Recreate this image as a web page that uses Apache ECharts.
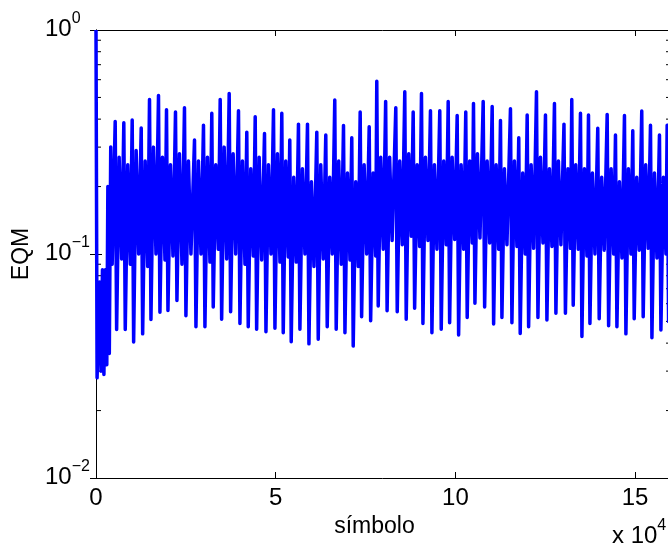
<!DOCTYPE html>
<html>
<head>
<meta charset="utf-8">
<script src="https://cdn.jsdelivr.net/npm/echarts@6/dist/echarts.min.js"></script>
<style>
  html, body { margin: 0; padding: 0; background: #fff; }
  #chart { width: 668px; height: 544px; }
</style>
</head>
<body>
<div id="chart"></div>
<script>
// EQM x símbolo (símbolo em unidades de 10^4)
// transitório inicial
const startPos = [0, 0.03, 0.1, 0.14, 0.18, 0.22, 0.26, 0.3, 0.33, 0.37, 0.41, 0.45]
const startVal = [1.0, 0.028, 0.075, 0.03, 0.085, 0.029, 0.085, 0.032, 0.2, 0.036, 0.3, 0.09]

// posição de cada pico (x 10^4)
const peakPos = [0.534, 0.774, 1.007, 1.258, 1.489, 1.739, 1.962, 2.212, 2.462,
  2.741, 2.991, 3.222, 3.456, 3.706, 3.965, 4.196, 4.430, 4.689, 4.939, 5.170,
  5.392, 5.634, 5.885, 6.144, 6.394, 6.644, 6.887, 7.117, 7.351, 7.602, 7.813,
  8.06, 8.342, 8.592, 8.826, 9.057, 9.307, 9.566, 9.800, 10.050, 10.289, 10.504,
  10.774, 11.024, 11.255, 11.533, 11.764, 11.998, 12.257, 12.507, 12.757, 13.022,
  13.239, 13.481, 13.704, 13.962, 14.224, 14.455, 14.705, 14.936, 15.186, 15.429, 15.679, 15.893]

const peakVal = [0.39, 0.385, 0.396, 0.365, 0.49, 0.51, 0.44, 0.43, 0.45,
  0.323, 0.376, 0.425, 0.49, 0.52, 0.436, 0.35, 0.41, 0.345, 0.44, 0.425,
  0.323, 0.38, 0.38, 0.35, 0.34, 0.487, 0.375, 0.33, 0.43, 0.37, 0.59,
  0.48, 0.45, 0.53, 0.43, 0.52, 0.436, 0.436, 0.48, 0.415, 0.43, 0.47,
  0.48, 0.455, 0.394, 0.445, 0.33, 0.417, 0.53, 0.417, 0.47, 0.38,
  0.49, 0.425, 0.417, 0.364, 0.42, 0.34, 0.415, 0.355, 0.435, 0.376, 0.34, 0.376]

const troughVal = [0.046, 0.046, 0.0405, 0.044, 0.051, 0.055, 0.056, 0.062, 0.053,
  0.0473, 0.0473, 0.058, 0.0511, 0.0552, 0.049, 0.0473, 0.0461, 0.045, 0.0466, 0.0445,
  0.0406, 0.0461, 0.0397, 0.0416, 0.0473, 0.0461, 0.0445, 0.0388, 0.0525, 0.0504, 0.0586,
  0.0558, 0.0552, 0.0511, 0.0572, 0.049, 0.0445, 0.0461, 0.0493, 0.0435, 0.0521, 0.0603,
  0.058, 0.0487, 0.0521, 0.0493, 0.0442, 0.0473, 0.0521, 0.0507, 0.0544, 0.0544,
  0.059, 0.0428, 0.049, 0.0514, 0.0478, 0.0473, 0.044, 0.0514, 0.0525, 0.0423, 0.0458, 0.05]

// oscilação interna (faixa central)
const bandHi = [0.27, 0.25, 0.29, 0.26, 0.3, 0.27, 0.25, 0.28, 0.26,
  0.26, 0.27, 0.25, 0.3, 0.28, 0.26, 0.24, 0.27, 0.25, 0.28, 0.26,
  0.22, 0.24, 0.21, 0.25, 0.22, 0.26, 0.23, 0.21, 0.25, 0.23, 0.27,
  0.27, 0.26, 0.28, 0.25, 0.27, 0.25, 0.26, 0.27, 0.25, 0.26, 0.28,
  0.26, 0.25, 0.24, 0.26, 0.23, 0.25, 0.27, 0.24, 0.26, 0.24,
  0.25, 0.24, 0.23, 0.22, 0.24, 0.21, 0.24, 0.22, 0.25, 0.23, 0.22, 0.24]
const bandLo = [0.095, 0.09, 0.1, 0.088, 0.1, 0.094, 0.098, 0.09, 0.1,
  0.1, 0.092, 0.105, 0.095, 0.1, 0.09, 0.098, 0.094, 0.1, 0.092, 0.097,
  0.092, 0.1, 0.088, 0.095, 0.1, 0.09, 0.094, 0.088, 0.1, 0.098, 0.105,
  0.115, 0.11, 0.12, 0.108, 0.115, 0.105, 0.11, 0.116, 0.105, 0.112, 0.118,
  0.112, 0.105, 0.11, 0.108, 0.1, 0.106, 0.112, 0.108, 0.11, 0.106,
  0.105, 0.098, 0.1, 0.104, 0.1, 0.096, 0.1, 0.104, 0.106, 0.096, 0.1, 0.1]

const minorVals = [0.02, 0.03, 0.04, 0.05, 0.06, 0.07, 0.08, 0.09, 0.2, 0.3, 0.4, 0.5, 0.6, 0.7, 0.8, 0.9]

const eqm = []
startPos.forEach((x, i) => eqm.push([x, startVal[i]]))
peakPos.forEach((x, i) => {
  eqm.push([x, peakVal[i]])
  eqm.push([x + 0.04, troughVal[i]])
  eqm.push([x + 0.11, bandHi[i]])
  eqm.push([x + 0.18, bandLo[i]])
})

const font = 'Liberation Sans, Arial, Helvetica, sans-serif'
const rich = {
  b: { fontSize: 24, fontFamily: font, color: '#000', padding: [6, 0, 0, 0], verticalAlign: 'bottom' },
  sup: { fontSize: 16, fontFamily: font, color: '#000', verticalAlign: 'top' },
}
const axisLineStyle = { lineStyle: { color: '#000', width: 1 } }

const myChart = echarts.init(document.getElementById('chart'))
const option = {
  animation: false,
  backgroundColor: '#fff',
  grid: { left: 96, top: 30, right: -3, bottom: 66, outerBoundsMode: 'none', containLabel: false },
  xAxis: [
    {
      type: 'value',
      min: 0,
      max: 16,
      interval: 5,
      position: 'bottom',
      axisLine: axisLineStyle,
      axisTick: { inside: true, length: 6, lineStyle: { color: '#000' } },
      axisLabel: { fontSize: 24, fontFamily: font, color: '#000', margin: 8, showMaxLabel: false },
      splitLine: { show: false },
      name: 'símbolo',
      nameLocation: 'middle',
      nameGap: 25,
      nameTextStyle: { fontSize: 23, fontFamily: font, color: '#000', padding: [0, 18, 0, 0] },
    },
    {
      type: 'value',
      min: 0,
      max: 16,
      interval: 5,
      position: 'top',
      axisLine: axisLineStyle,
      axisTick: { inside: true, length: 6, lineStyle: { color: '#000' } },
      axisLabel: { show: false },
      splitLine: { show: false },
    },
  ],
  yAxis: [
    {
      type: 'log',
      logBase: 10,
      min: 0.01,
      max: 1,
      position: 'left',
      axisLine: { show: true, lineStyle: { color: '#000', width: 1 } },
      axisTick: { show: true, inside: true, length: 6, lineStyle: { color: '#000' } },
      axisLabel: {
        align: 'left',
        margin: 51,
        padding: [0, 0, 8, 0],
        formatter: (v) => '{b|10}{sup|' + String(Math.round(Math.log10(v))).replace('-', '\u2212') + '}',
        rich: rich,
      },
      splitLine: { show: false },
      name: 'EQM',
      nameLocation: 'middle',
      nameGap: 63,
      nameRotate: 90,
      nameTextStyle: { fontSize: 23, fontFamily: font, color: '#000' },
    },
    {
      type: 'log',
      logBase: 10,
      min: 0.01,
      max: 1,
      position: 'right',
      axisLine: { show: true, lineStyle: { color: '#000', width: 1 } },
      axisTick: { show: true, inside: true, length: 6, lineStyle: { color: '#000' } },
      axisLabel: { show: false },
      splitLine: { show: false },
    },
  ],
  graphic: [
    {
      type: 'text',
      left: 612,
      top: 518,
      style: { text: '{b|x 10}{sup|4}', rich: rich },
    },
  ],
  series: [
    {
      // marcas menores do eixo log
      type: 'custom',
      xAxisIndex: 0,
      yAxisIndex: 0,
      z: 1,
      clip: false,
      data: minorVals.map((v) => [0, v]),
      renderItem: (params, api) => {
        const pL = api.coord([0, api.value(1)])
        const pR = api.coord([16, api.value(1)])
        return {
          type: 'group',
          children: [
            { type: 'line', shape: { x1: pL[0], y1: pL[1], x2: pL[0] + 5, y2: pL[1] }, style: { stroke: '#000', lineWidth: 1 } },
            { type: 'line', shape: { x1: pR[0] - 5, y1: pR[1], x2: pR[0], y2: pR[1] }, style: { stroke: '#000', lineWidth: 1 } },
          ],
        }
      },
    },
    {
      name: 'EQM',
      type: 'line',
      xAxisIndex: 0,
      yAxisIndex: 0,
      z: 2,
      data: eqm,
      symbol: 'none',
      showSymbol: false,
      clip: false,
      sampling: null,
      lineStyle: { color: '#0000ff', width: 3.5, join: 'round' },
      emphasis: { disabled: true },
    },
  ],
}
myChart.setOption(option)
</script>
</body>
</html>
